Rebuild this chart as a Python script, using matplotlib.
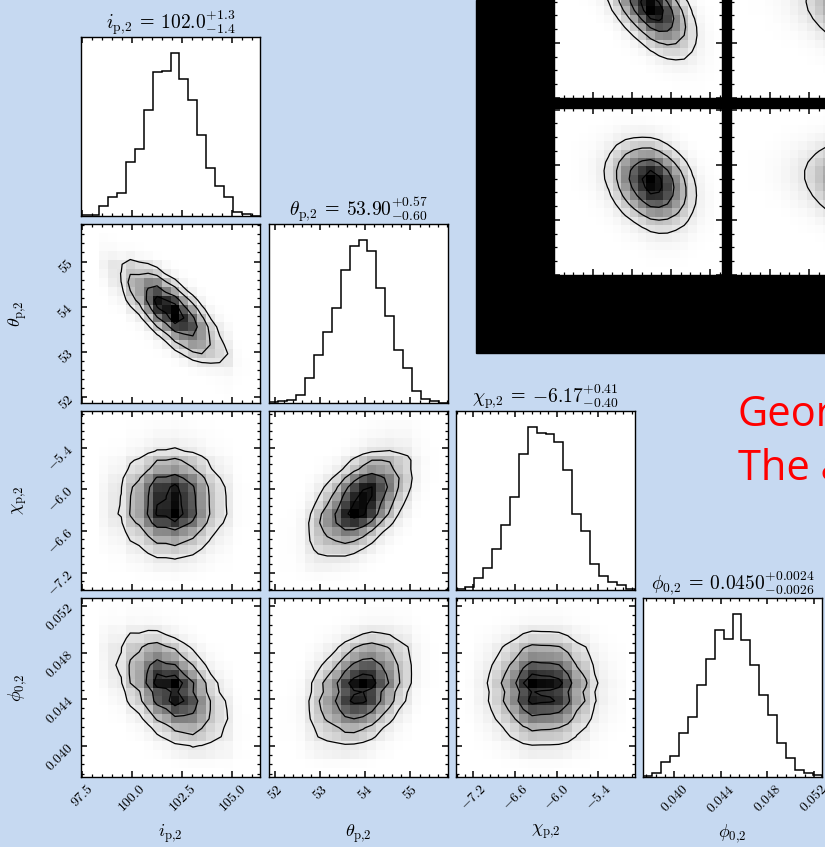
import math
import numpy as np
import matplotlib
matplotlib.use("Agg")
import matplotlib.pyplot as plt
from matplotlib.ticker import AutoMinorLocator, MultipleLocator, NullLocator
from matplotlib.colors import LinearSegmentedColormap
from matplotlib.patches import Rectangle

# posterior summary for the second planet
labels = [r"i_{\rm p{,}2}", r"\theta_{\rm p{,}2}", r"\chi_{\rm p{,}2}", r"\phi_{0{,}2}"]
medians = ["102.0", "53.90", "-6.17", "0.0450"]
err_up = ["1.3", "0.57", "0.41", "0.0024"]
err_lo = ["1.4", "0.60", "0.40", "0.0026"]
ranges = [(97.47, 106.39), (51.87, 55.83), (-7.45, -4.87), (0.0373, 0.0527)]
ticks = [[97.5, 100.0, 102.5, 105.0], [52, 53, 54, 55],
         [-7.2, -6.6, -6.0, -5.4], [0.040, 0.044, 0.048, 0.052]]
tick_fmt = ["%.1f", "%d", "%.1f", "%.3f"]

# 20-bin marginal histograms
counts_i = [2, 3, 28, 57, 67, 158, 198, 310, 424, 427, 478, 402, 342, 237, 142, 88, 57, 12, 5, 1]
counts_theta = [3, 5, 8, 23, 75, 143, 211, 283, 395, 465, 483, 450, 341, 258, 158, 103, 35, 13, 5, 1]
counts_chi = [3, 10, 36, 66, 122, 195, 278, 406, 486, 470, 465, 442, 358, 228, 175, 78, 43, 24, 14, 2]
counts_phi = [4, 12, 45, 62, 132, 179, 274, 354, 440, 414, 487, 410, 336, 246, 186, 102, 57, 21, 12, 7]
counts = [counts_i, counts_theta, counts_chi, counts_phi]

# pairwise correlations (row, col)
corr = {(1, 0): -0.75, (2, 0): 0.0, (2, 1): 0.5,
        (3, 0): -0.45, (3, 1): 0.3, (3, 2): 0.0}

# second corner plot pasted top right (binned on unit ranges)
inset_x_left = [0, 0, 1, 2, 4, 8, 15, 28, 45, 62, 78, 90, 85, 70, 50, 32, 16, 7, 3, 1]
inset_x_right = [0, 0, 1, 1, 2, 3, 5, 8, 12, 18, 26, 36, 48, 60, 72, 82, 90, 94, 95, 94]
inset_y_top = [0, 1, 2, 5, 10, 18, 30, 46, 64, 80, 90, 88, 76, 58, 40, 24, 12, 6, 2, 1]
inset_y_bottom = [0, 1, 2, 4, 8, 15, 26, 42, 60, 76, 86, 88, 78, 60, 40, 24, 12, 6, 2, 1]
inset_corr = [-0.55, -0.2, -0.25, -0.2]

mass_levels = 1.0 - np.exp(-0.5 * np.arange(0.5, 2.1, 0.5) ** 2)

plt.rcParams["mathtext.fontset"] = "cm"
plt.rcParams["font.family"] = "DejaVu Serif"
plt.rcParams["xtick.direction"] = "in"
plt.rcParams["ytick.direction"] = "in"
plt.rcParams["xtick.top"] = True
plt.rcParams["ytick.right"] = True
plt.rcParams["xtick.major.size"] = 4.5
plt.rcParams["ytick.major.size"] = 4.5
plt.rcParams["xtick.minor.size"] = 2.2
plt.rcParams["ytick.minor.size"] = 2.2
plt.rcParams["xtick.major.width"] = 1.1
plt.rcParams["ytick.major.width"] = 1.1
plt.rcParams["xtick.minor.width"] = 0.9
plt.rcParams["ytick.minor.width"] = 0.9
plt.rcParams["axes.linewidth"] = 1.0

erf = np.vectorize(math.erf)


def norm_ppf(u):
    lo = np.full_like(u, -8.0)
    hi = np.full_like(u, 8.0)
    for _ in range(60):
        mid = 0.5 * (lo + hi)
        c = 0.5 * (1 + erf(mid / math.sqrt(2)))
        lo = np.where(c < u, mid, lo)
        hi = np.where(c < u, hi, mid)
    return 0.5 * (lo + hi)


def joint_hist(cx, cy, rho):
    # gaussian copula joining the two binned marginals
    px = np.array(cx, float) + 0.2
    py = np.array(cy, float) + 0.2
    px /= px.sum()
    py /= py.sum()
    zx = norm_ppf(np.cumsum(px) - px / 2)
    zy = norm_ppf(np.cumsum(py) - py / 2)
    X, Y = np.meshgrid(zx, zy)
    cop = np.exp(-(rho ** 2 * (X ** 2 + Y ** 2) - 2 * rho * X * Y) / (2 * (1 - rho ** 2)))
    cop /= math.sqrt(1 - rho ** 2)
    return np.outer(py, px) * cop


def sigma_levels(H):
    flat = np.sort(H.ravel())[::-1]
    cum = np.cumsum(flat) / flat.sum()
    V = [flat[min(np.searchsorted(cum, m), len(flat) - 1)] for m in mass_levels]
    return np.unique(V)


cmap = LinearSegmentedColormap.from_list("dens", ["white", "black"])


def draw_hist2d(ax, cx, cy, rho, xr, yr):
    H = joint_hist(cx, cy, rho)
    xe = np.linspace(xr[0], xr[1], len(cx) + 1)
    ye = np.linspace(yr[0], yr[1], len(cy) + 1)
    ax.pcolormesh(xe, ye, H ** 1.15, cmap=cmap, vmin=0, vmax=H.max() ** 1.15)
    xc = 0.5 * (xe[1:] + xe[:-1])
    yc = 0.5 * (ye[1:] + ye[:-1])
    ax.contour(xc, yc, H, levels=sigma_levels(H), colors="k", linewidths=0.9)
    ax.set_xlim(xr)
    ax.set_ylim(yr)


W, Hpx = 825, 847
fig = plt.figure(figsize=(8.25, 8.47), dpi=100)
fig.patch.set_facecolor("#c6d9f1")


def px_axes(x, y, w, h):
    return fig.add_axes([x / W, 1 - (y + h) / Hpx, w / W, h / Hpx])


lefts = [81, 269, 456, 643]
tops = [37, 224, 411, 598]
size = 179
n = len(labels)

for r in range(n):
    for c in range(r + 1):
        ax = px_axes(lefts[c], tops[r], size, size)
        ax.set_facecolor("white")
        edges = np.linspace(ranges[c][0], ranges[c][1], 21)
        if r == c:
            centers = 0.5 * (edges[1:] + edges[:-1])
            ax.hist(centers, bins=edges, weights=counts[c], histtype="step", color="k", lw=1.1)
            ax.set_xlim(ranges[c])
            ax.set_ylim(0, 1.1 * max(counts[c]))
            ax.set_yticks([])
            ax.yaxis.set_minor_locator(NullLocator())
            ax.tick_params(left=False, right=False)
            ax.set_title(r"$%s$ = $%s^{+%s}_{-%s}$" % (labels[c], medians[c], err_up[c], err_lo[c]),
                         fontsize=14, pad=4)
        else:
            draw_hist2d(ax, counts[c], counts[r], corr[(r, c)], ranges[c], ranges[r])
            ax.set_yticks(ticks[r])
            ax.yaxis.set_minor_locator(AutoMinorLocator(5))
            if c == 0:
                ax.set_yticklabels(["$" + tick_fmt[r] % t + "$" for t in ticks[r]],
                                   rotation=45, fontsize=10)
                ax.set_ylabel("$%s$" % labels[r], fontsize=13)
                ax.yaxis.set_label_coords(-0.29, 0.5)
            else:
                ax.set_yticklabels([])
        ax.set_xticks(ticks[c])
        ax.xaxis.set_minor_locator(AutoMinorLocator(5))
        ax.set_xlim(ranges[c])
        if r == n - 1:
            ax.set_xticklabels(["$" + tick_fmt[c] % t + "$" for t in ticks[c]],
                               rotation=45, fontsize=10)
            ax.set_xlabel("$%s$" % labels[c], fontsize=13)
            ax.xaxis.set_label_coords(0.5, -0.255)
        else:
            ax.set_xticklabels([])

# black backdrop of the pasted plot
fig.patches.append(Rectangle((476 / W, 1 - 353 / Hpx), 1 - 476 / W, 353 / Hpx,
                             transform=fig.transFigure, color="black", zorder=-1))

inset_cols = [inset_x_left, inset_x_right]
inset_rows = [inset_y_top, inset_y_bottom]
inset_lefts = [554, 731]
inset_tops = [-69, 108]
k = 0
for r in range(2):
    for c in range(2):
        ax = px_axes(inset_lefts[c], inset_tops[r], 168, 167)
        ax.set_facecolor("white")
        draw_hist2d(ax, inset_cols[c], inset_rows[r], inset_corr[k], (0, 1), (0, 1))
        k += 1
        ax.xaxis.set_major_locator(MultipleLocator(0.232))
        ax.xaxis.set_minor_locator(MultipleLocator(0.058))
        ax.yaxis.set_major_locator(MultipleLocator(0.33))
        ax.yaxis.set_minor_locator(MultipleLocator(0.0825))
        ax.set_xticklabels([])
        ax.set_yticklabels([])

fig.text(738 / W, 1 - 426 / Hpx, "Geor", color="red", fontsize=30, family="Open Sans",
         va="baseline")
fig.text(738 / W, 1 - 480 / Hpx, "The a", color="red", fontsize=30, family="Open Sans",
         va="baseline")

fig.savefig("out.png", dpi=100, facecolor=fig.get_facecolor())
